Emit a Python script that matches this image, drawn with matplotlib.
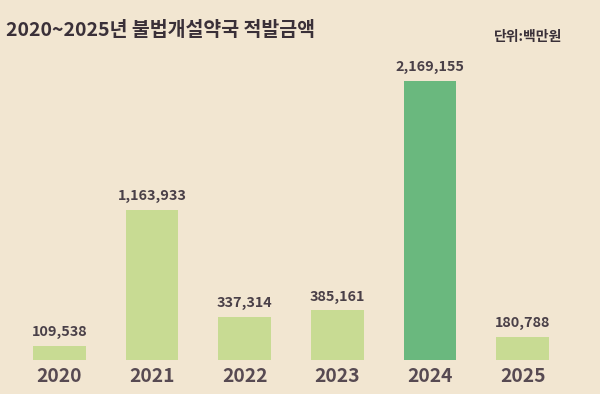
import matplotlib
matplotlib.use("Agg")
import matplotlib.pyplot as plt

years = ["2020", "2021", "2022", "2023", "2024", "2025"]
amounts = [109538, 1163933, 337314, 385161, 2169155, 180788]
highlight = "2024"

bg = "#f2e6d1"
light_green = "#c8db93"
dark_green = "#6ab87e"
text_col = "#4a4048"

plt.rcParams["font.family"] = ["Noto Sans CJK KR", "DejaVu Sans"]

fig = plt.figure(figsize=(6.0, 3.94), dpi=100)
fig.patch.set_facecolor(bg)
ax = fig.add_axes([13 / 600, 1 - 360 / 394, 556 / 600, 300 / 394])
ax.set_facecolor(bg)

colors = [dark_green if y == highlight else light_green for y in years]
x = range(len(years))
ax.bar(x, amounts, width=0.57, color=colors)

for i, v in enumerate(amounts):
    ax.annotate("{:,}".format(v), (i, v), xytext=(0, 5), textcoords="offset points",
                ha="center", va="bottom", fontsize=10.4, fontweight="bold", color=text_col)

ax.set_xlim(-0.5, len(years) - 0.5)
ax.set_ylim(0, 2332000)
ax.set_xticks(list(x))
ax.set_xticklabels(years, fontsize=13.8, fontweight="bold", color="#574a52")
ax.tick_params(axis="x", length=0, pad=5)
ax.set_yticks([])
for s in ax.spines.values():
    s.set_visible(False)

fig.text(6 / 600, 1 - 31 / 394, "2020~2025년 불법개설약국 적발금액", fontsize=14,
         fontweight="bold", color="#3a3038", ha="left", va="center")
fig.text(528 / 600, 1 - 37 / 394, "단위:백만원", fontsize=10, fontweight="bold",
         color="#3a3038", ha="center", va="center")

fig.savefig("out.png", dpi=100, facecolor=bg)
